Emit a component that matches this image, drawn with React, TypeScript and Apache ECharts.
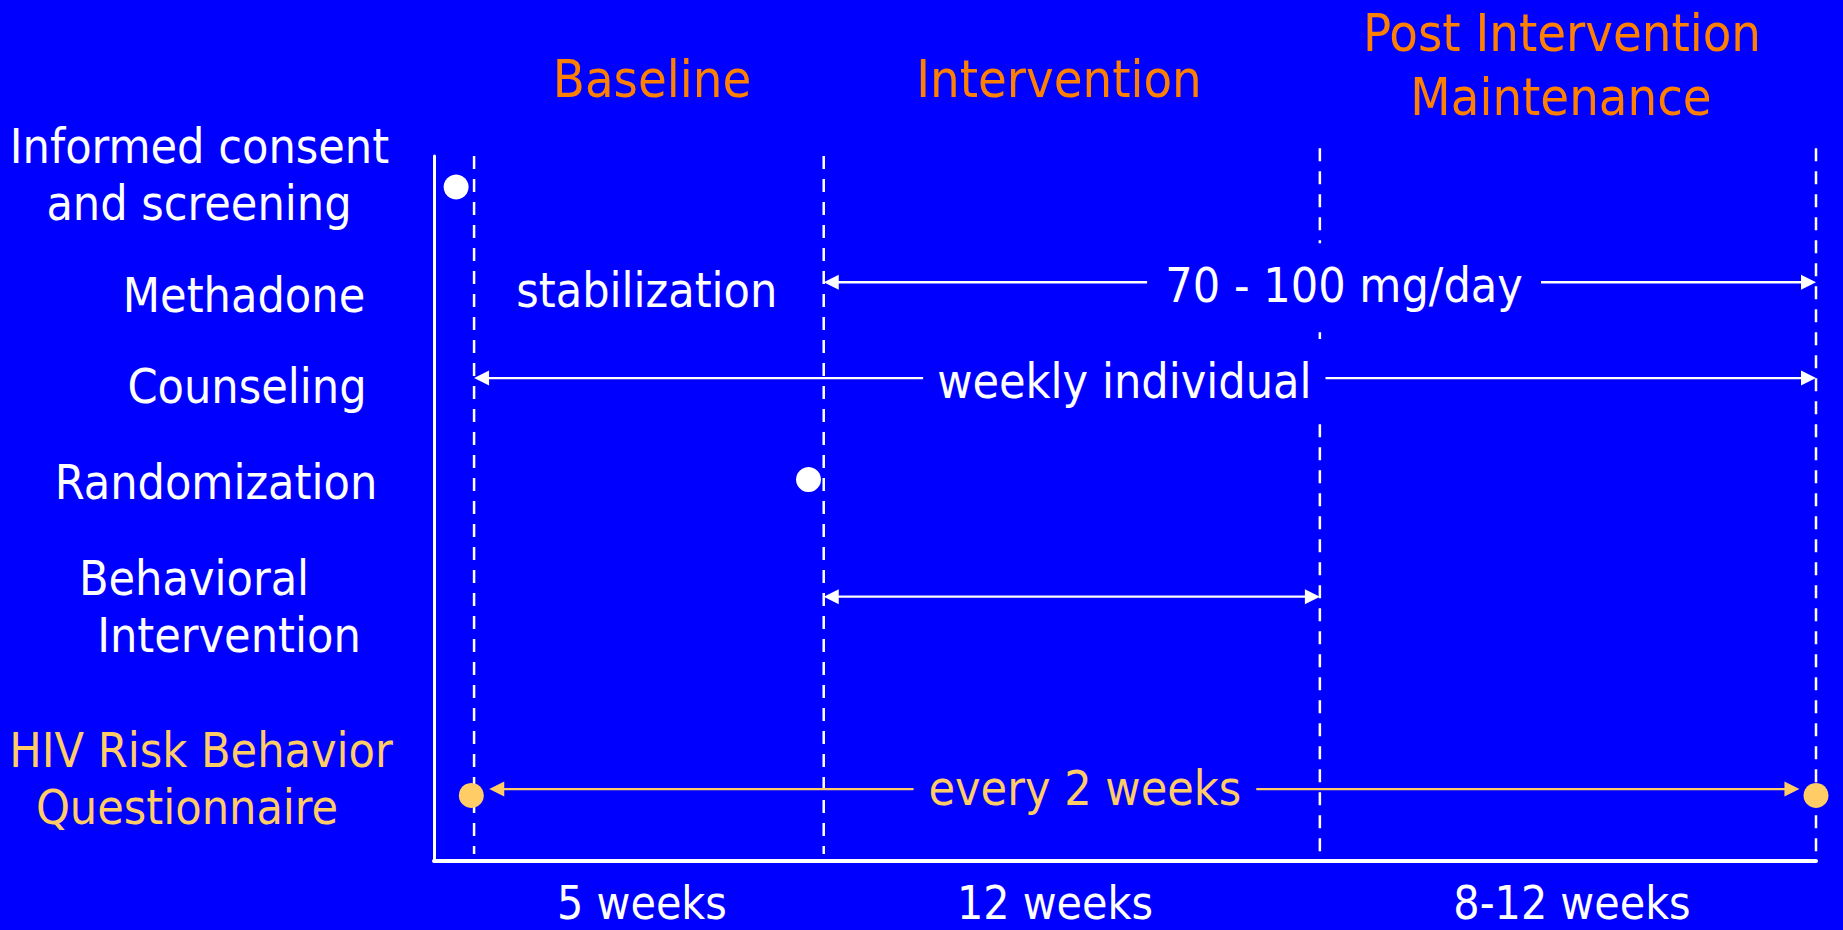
import React, { useEffect, useRef } from "react";
import * as echarts from "echarts";

const BG = "#0000FF";
const WHITE = "#FFFFFF";
const TITLE_ORANGE = "#FF8000";
const HIV_ORANGE = "#FFCC66";
const FONT = "'DejaVu Sans Condensed', 'Liberation Sans', sans-serif";

// Schematic timeline: x runs 0..100 across the plot, y runs 0..100 downward.
const phases = ["Baseline", "Intervention", "Post Intervention", "Maintenance"];
const phaseBounds = [2.9, 28.2, 64.1, 100];
const boundaryTop = [0, 0, -1.1, -1.1];
const boundaryBottom = 99;
const durations = ["5 weeks", "12 weeks", "8-12 weeks"];

const rowLines = [
  "Informed consent",
  "and screening",
  "Methadone",
  "Counseling",
  "Randomization",
  "Behavioral",
  "Intervention",
  "HIV Risk Behavior",
  "Questionnaire",
];
const rowY = [4.4, 17.9, 31.5, 45.9, 62.5, 89.8];

// one-off events (dots)
const whiteEvents = [
  [1.6, 4.4],
  [27.1, 45.9],
];
const hivEvents = [
  [2.7, 90.7],
  [100, 90.7],
];

// spans drawn as arrows
const spanRow = [1, 2, 4, 5];
const spanStart = [28.2, 2.9, 28.2, 4.0];
const spanEnd = [100, 100, 64.1, 98.8];
const spanGapStart = [51.6, 35.5, -1, 34.7];
const spanGapEnd = [80.1, 64.4, -1, 59.5];
const spanLabels = ["70 - 100 mg/day", "weekly individual", "", "every 2 weeks"];
const spanIsHiv = [false, false, false, true];

const stabilizationX = 15.4;

export default function App() {
  const ref = useRef<HTMLDivElement>(null);

  useEffect(() => {
    document.body.style.margin = "0";
    document.body.style.background = BG;
    const chart = echarts.init(ref.current!, null, { renderer: "svg" });

    const txt = (text: string, x: number, y: number, size: number, color: string, lh?: number) => ({
      type: "text",
      x,
      y,
      silent: true,
      style: {
        text,
        fill: color,
        fontSize: size,
        fontFamily: FONT,
        lineHeight: lh,
        align: "center",
        verticalAlign: "middle",
        textAlign: "center",
        textVerticalAlign: "middle",
      },
    });

    const rowLabelPos = [
      [199.5, 146],
      [199, 203],
      [244, 295],
      [247, 386],
      [216, 482],
      [194, 578],
      [229, 635],
      [201, 750],
      [187, 807],
    ];
    const phasePos = [
      [652, 78.5],
      [1059, 78.5],
      [1562, 32.5],
      [1561, 96.5],
    ];
    const durPos = [
      [642, 903],
      [1055, 903],
      [1572, 903],
    ];

    const graphic: any[] = [];
    phases.forEach((p, i) => graphic.push(txt(p, phasePos[i][0], phasePos[i][1], 52, TITLE_ORANGE)));
    rowLines.forEach((r, i) =>
      graphic.push(txt(r, rowLabelPos[i][0], rowLabelPos[i][1], 48, i >= 7 ? HIV_ORANGE : WHITE))
    );
    durations.forEach((d, i) => graphic.push(txt(d, durPos[i][0], durPos[i][1], 46, WHITE, 44)));

    const annotations: any[] = [];
    const annotationsHiv: any[] = [];
    annotations.push({
      name: "stabilization",
      value: [stabilizationX, rowY[1]],
      label: { offset: [0, 8], backgroundColor: "transparent" },
    });
    spanLabels.forEach((l, i) => {
      if (!l) return;
      const item = {
        name: l,
        value: [(spanGapStart[i] + spanGapEnd[i]) / 2, rowY[spanRow[i]]],
        label: { offset: [0, spanIsHiv[i] ? -1 : 3] },
      };
      (spanIsHiv[i] ? annotationsHiv : annotations).push(item);
    });

    const labelBase = {
      show: true,
      position: "inside",
      formatter: "{b}",
      fontSize: 48,
      fontFamily: FONT,
      lineHeight: 58,
      opacity: 1,
      textBorderWidth: 0,
      backgroundColor: BG,
      padding: [13, 14],
    };

    const option: any = {
      animation: false,
      backgroundColor: BG,
      grid: { left: 434, right: 27, top: 156, bottom: 69 },
      xAxis: {
        type: "value",
        min: 0,
        max: 100,
        axisLine: { show: true, onZero: false, lineStyle: { color: WHITE, width: 4 } },
        axisTick: { show: false },
        axisLabel: { show: false },
        splitLine: { show: false },
      },
      yAxis: {
        type: "value",
        min: 0,
        max: 100,
        inverse: true,
        axisLine: { show: true, onZero: false, lineStyle: { color: WHITE, width: 3 } },
        axisTick: { show: false },
        axisLabel: { show: false },
        splitLine: { show: false },
      },
      graphic,
      series: [
        {
          type: "custom",
          name: "phase boundaries",
          silent: true,
          clip: false,
          data: phaseBounds.map((b, i) => [b, boundaryTop[i], boundaryBottom]),
          encode: { x: 0, y: [1, 2] },
          renderItem: (params: any, api: any) => {
            const p1 = api.coord([api.value(0), api.value(1)]);
            const p2 = api.coord([api.value(0), api.value(2)]);
            return {
              type: "line",
              shape: { x1: p1[0], y1: p1[1], x2: p2[0], y2: p2[1] },
              style: { stroke: WHITE, lineWidth: 2.5, lineDash: [13, 10] },
            };
          },
        },
        {
          type: "custom",
          name: "spans",
          silent: true,
          clip: false,
          data: spanRow.map((r, i) => [spanStart[i], rowY[r], spanEnd[i]]),
          encode: { x: [0, 2], y: 1 },
          renderItem: (params: any, api: any) => {
            const i = params.dataIndex;
            const color = spanIsHiv[i] ? HIV_ORANGE : WHITE;
            const ps = api.coord([spanStart[i], rowY[spanRow[i]]]);
            const pe = api.coord([spanEnd[i], rowY[spanRow[i]]]);
            const y = ps[1];
            const head = 15;
            const half = 7.5;
            const children: any[] = [];
            const seg = (a: number, b: number) =>
              children.push({
                type: "line",
                shape: { x1: a, y1: y, x2: b, y2: y },
                style: { stroke: color, lineWidth: 2.4 },
              });
            if (spanGapStart[i] >= 0) {
              const gs = api.coord([spanGapStart[i], rowY[spanRow[i]]])[0];
              const ge = api.coord([spanGapEnd[i], rowY[spanRow[i]]])[0];
              seg(ps[0] + head / 2, gs);
              seg(ge, pe[0] - head / 2);
            } else {
              seg(ps[0] + head / 2, pe[0] - head / 2);
            }
            children.push({
              type: "polygon",
              shape: { points: [[ps[0], y], [ps[0] + head, y - half], [ps[0] + head, y + half]] },
              style: { fill: color },
            });
            children.push({
              type: "polygon",
              shape: { points: [[pe[0], y], [pe[0] - head, y - half], [pe[0] - head, y + half]] },
              style: { fill: color },
            });
            return { type: "group", children };
          },
        },
        {
          type: "scatter",
          name: "events",
          silent: true,
          symbolSize: 25,
          itemStyle: { color: WHITE, opacity: 1 },
          data: whiteEvents,
        },
        {
          type: "scatter",
          name: "HIV questionnaire",
          silent: true,
          clip: false,
          symbolSize: 25,
          itemStyle: { color: HIV_ORANGE, opacity: 1 },
          data: hivEvents,
        },
        {
          type: "scatter",
          name: "annotations",
          silent: true,
          symbolSize: 1,
          itemStyle: { color: "rgba(0,0,0,0)", opacity: 1 },
          label: { ...labelBase, color: WHITE },
          data: annotations,
        },
        {
          type: "scatter",
          name: "annotations hiv",
          silent: true,
          symbolSize: 1,
          itemStyle: { color: "rgba(0,0,0,0)", opacity: 1 },
          label: { ...labelBase, color: HIV_ORANGE },
          data: annotationsHiv,
        },
      ],
    };
    chart.setOption(option);
    return () => chart.dispose();
  }, []);

  return <div ref={ref} style={{ width: 1843, height: 930, background: BG }} />;
}
